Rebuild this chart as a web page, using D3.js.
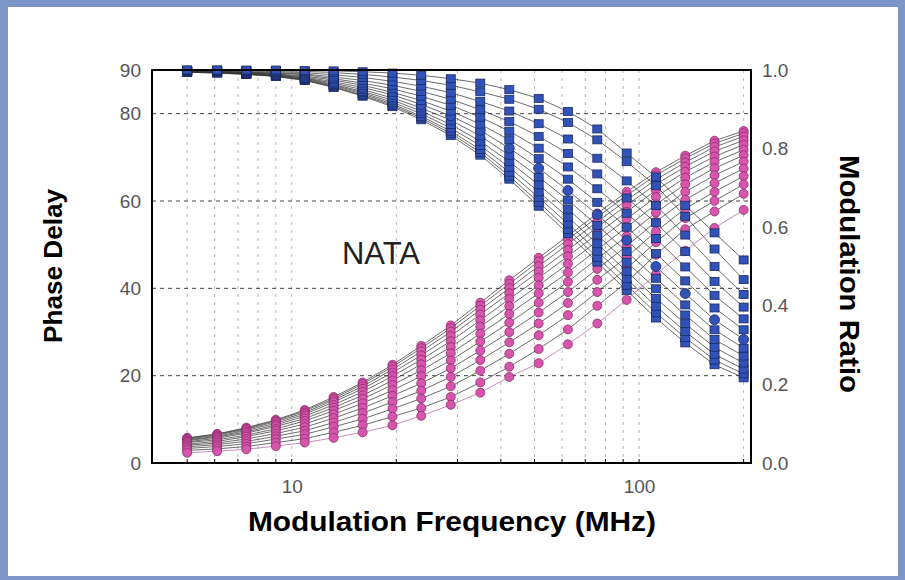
<!DOCTYPE html>
<html>
<head>
<meta charset="utf-8">
<script src="https://cdn.jsdelivr.net/npm/d3@7"></script>
<style>
  body { margin: 0; background: #fff; }
  text { font-family: Arial, "Liberation Sans", sans-serif; }
</style>
</head>
<body>
<div id="chart"></div>
<script>
// modulation frequencies (MHz), one column of markers each
const freqs = [5, 6.1, 7.4, 9.0, 10.9, 13.2, 16.0, 19.5, 23.6, 28.7, 34.9, 42.3, 51.4, 62.4, 75.8, 92.1, 111.8, 135.8, 164.9, 200];

// phase delay (deg), one row per sample
const phase = [
  [89.5, 89.3, 89.0, 88.5, 87.6, 86.0, 84.0, 81.6, 78.6, 75.0, 70.5, 65.0, 58.8, 52.5, 46.0, 39.5, 33.2, 27.5, 22.5, 19.5],
  [89.5, 89.3, 89.0, 88.6, 87.7, 86.1, 84.2, 81.9, 79.0, 75.5, 71.1, 65.7, 59.7, 53.5, 47.1, 40.7, 34.4, 28.7, 23.6, 20.4],
  [89.5, 89.4, 89.1, 88.6, 87.8, 86.3, 84.5, 82.2, 79.4, 76.0, 71.8, 66.6, 60.8, 54.8, 48.5, 42.2, 35.9, 30.1, 24.9, 21.5],
  [89.6, 89.4, 89.1, 88.7, 87.9, 86.5, 84.8, 82.6, 80.0, 76.7, 72.7, 67.7, 62.1, 56.3, 50.2, 43.9, 37.7, 31.9, 26.5, 22.9],
  [89.6, 89.5, 89.2, 88.8, 88.1, 86.7, 85.1, 83.1, 80.6, 77.5, 73.7, 69.0, 63.7, 58.1, 52.2, 46.0, 39.9, 33.9, 28.3, 24.5],
  [89.7, 89.5, 89.3, 88.9, 88.2, 87.0, 85.5, 83.6, 81.3, 78.5, 74.9, 70.5, 65.5, 60.2, 54.4, 48.4, 42.3, 36.2, 30.5, 26.3],
  [89.7, 89.6, 89.4, 89.0, 88.4, 87.3, 86.0, 84.3, 82.1, 79.5, 76.2, 72.1, 67.5, 62.4, 56.9, 51.0, 45.0, 38.8, 32.8, 28.3],
  [89.7, 89.6, 89.4, 89.1, 88.6, 87.7, 86.5, 84.9, 83.0, 80.6, 77.6, 74.0, 69.7, 65.0, 59.7, 54.0, 48.0, 41.7, 35.5, 30.5],
  [89.8, 89.7, 89.5, 89.3, 88.9, 88.0, 87.0, 85.7, 84.0, 81.9, 79.2, 76.0, 72.1, 67.8, 62.8, 57.2, 51.4, 44.9, 38.4, 33.0],
  [89.9, 89.8, 89.6, 89.4, 89.1, 88.4, 87.6, 86.5, 85.1, 83.3, 80.9, 78.2, 74.8, 70.9, 66.2, 60.7, 55.0, 48.4, 41.6, 35.7],
  [89.9, 89.9, 89.8, 89.6, 89.4, 88.9, 88.3, 87.4, 86.3, 84.8, 82.8, 80.6, 77.7, 74.2, 69.8, 64.6, 59.0, 52.2, 45.0, 38.6],
  [90.0, 90.0, 89.9, 89.8, 89.7, 89.4, 89.0, 88.4, 87.6, 86.5, 85.0, 83.3, 81.0, 78.0, 74.0, 69.0, 63.5, 56.5, 49.0, 42.0],
  [90.0, 90.0, 90.0, 90.0, 89.9, 89.8, 89.6, 89.3, 88.8, 88.0, 87.0, 85.5, 83.5, 80.5, 76.5, 71.0, 65.5, 59.0, 52.7, 46.5]
];

// modulation ratio, same rows
const modRatio = [
  [.064, .074, .090, .110, .135, .168, .205, .250, .298, .350, .408, .465, .522, .578, .635, .690, .740, .782, .820, .845],
  [.063, .073, .088, .108, .132, .164, .201, .245, .292, .343, .400, .456, .513, .569, .626, .681, .732, .775, .813, .839],
  [.061, .071, .086, .105, .128, .160, .195, .238, .284, .334, .390, .445, .501, .557, .614, .669, .721, .765, .804, .831],
  [.059, .068, .083, .101, .124, .155, .189, .230, .274, .323, .378, .432, .487, .542, .600, .656, .709, .754, .793, .821],
  [.057, .066, .079, .097, .119, .148, .181, .221, .263, .310, .363, .417, .471, .526, .583, .639, .694, .741, .780, .810],
  [.054, .063, .076, .093, .113, .141, .172, .210, .251, .295, .347, .399, .452, .507, .565, .621, .677, .726, .766, .797],
  [.052, .059, .071, .087, .107, .133, .163, .199, .236, .279, .329, .379, .432, .485, .543, .600, .658, .709, .750, .783],
  [.048, .055, .067, .082, .099, .124, .152, .185, .221, .261, .309, .357, .408, .461, .520, .577, .637, .690, .732, .767],
  [.045, .051, .061, .075, .091, .114, .140, .171, .203, .241, .286, .333, .383, .435, .494, .552, .614, .670, .712, .749],
  [.041, .047, .055, .068, .082, .103, .127, .155, .184, .219, .262, .307, .355, .407, .466, .524, .589, .647, .690, .730],
  [.037, .042, .049, .061, .073, .092, .112, .138, .164, .195, .235, .278, .325, .376, .435, .495, .562, .623, .667, .709],
  [.032, .036, .042, .052, .062, .078, .096, .118, .140, .168, .205, .245, .290, .340, .400, .460, .530, .595, .640, .685],
  [.026, .030, .035, .043, .052, .064, .078, .096, .120, .148, .179, .219, .254, .302, .355, .415, .480, .540, .598, .644]
];

const leftTicks = [0, 20, 40, 60, 80, 90];
const rightTicks = [0, 0.2, 0.4, 0.6, 0.8, 1.0];
const xTicks = [10, 100];
const xGrid = [5, 6, 7, 8, 9, 10, 20, 30, 40, 50, 60, 70, 80, 90, 100, 200];

const W = 905, H = 580;
const box = { left: 152, top: 70, right: 751, bottom: 463 };

const svg = d3.select("#chart").append("svg")
    .attr("width", W).attr("height", H);

// blue frame around the picture
svg.append("rect").attr("width", W).attr("height", H).attr("fill", "#7b95c7");
svg.append("rect").attr("x", 8).attr("y", 7).attr("width", W - 15).attr("height", H - 11)
    .attr("fill", "#fff");

const x = d3.scaleLog().domain([3.96, 210]).range([box.left, box.right]);
const yL = d3.scaleLinear().domain([0, 90]).range([box.bottom, box.top]);
const yR = d3.scaleLinear().domain([0, 1]).range([box.bottom, box.top]);

// grid
svg.append("g").selectAll("line").data(xGrid).join("line")
    .attr("x1", d => x(d)).attr("x2", d => x(d))
    .attr("y1", box.top).attr("y2", box.bottom)
    .attr("stroke", "#bcaebc").attr("stroke-width", 1)
    .attr("stroke-dasharray", "3,5");
svg.append("g").selectAll("line").data([20, 40, 60, 80]).join("line")
    .attr("x1", box.left).attr("x2", box.right)
    .attr("y1", d => yL(d)).attr("y2", d => yL(d))
    .attr("stroke", "#444").attr("stroke-width", 1)
    .attr("stroke-dasharray", "4,4");

// lines
const lineP = d3.line().x((d, i) => x(freqs[i])).y(d => yL(d));
const lineM = d3.line().x((d, i) => x(freqs[i])).y(d => yR(d));
const last = phase.length - 1;

svg.append("g").selectAll("path").data(phase).join("path")
    .attr("d", lineP).attr("fill", "none")
    .attr("stroke", "#333").attr("stroke-width", 0.9).attr("stroke-opacity", 0.8);
svg.append("g").selectAll("path").data(modRatio).join("path")
    .attr("d", lineM).attr("fill", "none")
    .attr("stroke", (d, i) => i === last ? "#b0609a" : "#333")
    .attr("stroke-width", 0.9).attr("stroke-opacity", 0.8);

// pink circles (modulation)
modRatio.forEach(row => {
  svg.append("g").selectAll("circle").data(row).join("circle")
      .attr("cx", (d, i) => x(freqs[i])).attr("cy", d => yR(d))
      .attr("r", 4.5)
      .attr("fill", "#d655ad").attr("stroke", "#8e2c6c").attr("stroke-width", 0.8);
});

// blue squares (phase)
phase.forEach((row, k) => {
  const g = svg.append("g");
  if (k === 6) {
    g.selectAll("circle").data(row).join("circle")
        .attr("cx", (d, i) => x(freqs[i])).attr("cy", d => yL(d))
        .attr("r", 5)
        .attr("fill", "#3153b8").attr("stroke", "#1b2a63").attr("stroke-width", 0.8);
  } else {
    g.selectAll("rect").data(row).join("rect")
        .attr("x", (d, i) => x(freqs[i]) - 4.5).attr("y", d => yL(d) - 4)
        .attr("width", 9).attr("height", 8)
        .attr("fill", "#3153b8").attr("stroke", "#1b2a63").attr("stroke-width", 0.8);
  }
});

// plot frame
svg.append("rect")
    .attr("x", box.left).attr("y", box.top)
    .attr("width", box.right - box.left).attr("height", box.bottom - box.top)
    .attr("fill", "none").attr("stroke", "#000").attr("stroke-width", 2);

// small inner ticks on the x axis
svg.append("g").selectAll("line").data(xGrid).join("line")
    .attr("x1", d => x(d)).attr("x2", d => x(d))
    .attr("y1", box.bottom).attr("y2", box.bottom - 4)
    .attr("stroke", "#000");

// axes
const axL = svg.append("g").attr("transform", `translate(${box.left},0)`)
    .call(d3.axisLeft(yL).tickValues(leftTicks).tickSize(0).tickPadding(11));
const axR = svg.append("g").attr("transform", `translate(${box.right},0)`)
    .call(d3.axisRight(yR).tickValues(rightTicks).tickSize(0).tickPadding(11)
      .tickFormat(d3.format(".1f")));
const axB = svg.append("g").attr("transform", `translate(0,${box.bottom})`)
    .call(d3.axisBottom(x).tickValues(xTicks).tickSize(0).tickPadding(17)
      .tickFormat(d3.format("d")));
[axL, axR, axB].forEach(a => {
  a.select(".domain").remove();
  a.selectAll("text").attr("font-size", 19).attr("fill", "#555")
      .attr("font-family", "Arial, 'Liberation Sans', sans-serif");
});

// labels
svg.append("text").attr("x", 381).attr("y", 264)
    .attr("text-anchor", "middle").attr("font-size", 31).attr("fill", "#222")
    .text("NATA");

svg.append("text")
    .attr("transform", "translate(62,266) rotate(-90)")
    .attr("text-anchor", "middle").attr("font-size", 26).attr("font-weight", "bold")
    .attr("textLength", 154).attr("lengthAdjust", "spacingAndGlyphs")
    .text("Phase Delay");

svg.append("text")
    .attr("transform", "translate(840,274) rotate(90)")
    .attr("text-anchor", "middle").attr("font-size", 27).attr("font-weight", "bold")
    .attr("textLength", 238).attr("lengthAdjust", "spacingAndGlyphs")
    .text("Modulation Ratio");

svg.append("text").attr("x", 452).attr("y", 531)
    .attr("text-anchor", "middle").attr("font-size", 28).attr("font-weight", "bold")
    .attr("textLength", 408).attr("lengthAdjust", "spacingAndGlyphs")
    .text("Modulation Frequency (MHz)");
</script>
</body>
</html>
